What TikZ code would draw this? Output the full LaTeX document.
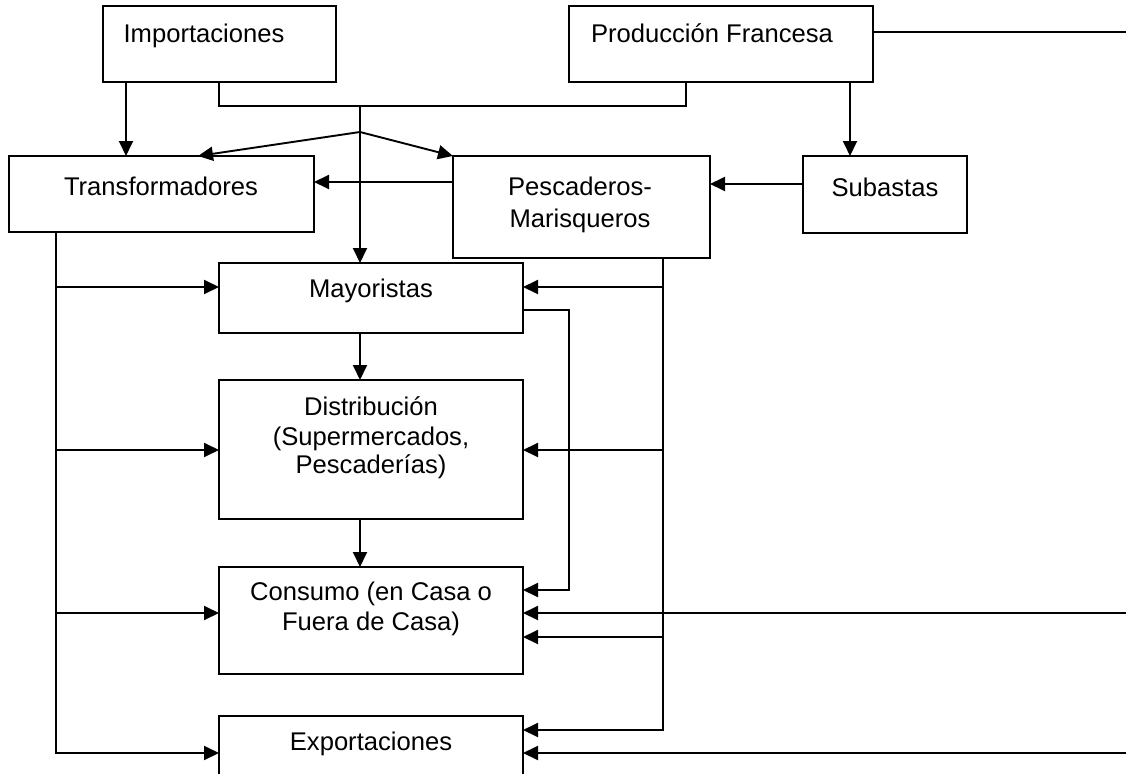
\documentclass[tikz,border=0pt]{standalone}
\usepackage{fontspec}
\setmainfont{Liberation Sans}
\usetikzlibrary{arrows.meta}
\begin{document}
\begin{tikzpicture}[x=1pt,y=-1pt,
  box/.style={draw, line width=1.9pt, inner sep=0pt, outer sep=0pt},
  lbl/.style={anchor=base, inner sep=0pt, font=\fontsize{25.6}{29}\selectfont},
  conn/.style={line width=1.9pt},
  arr/.style={conn, -{Triangle[length=15pt,width=14pt]}}]
\clip (0,0) rectangle (1126,773);
\fill[white] (0,0) rectangle (1126,773);
% boxes
\node[box, minimum width=233pt, minimum height=76pt] (imp) at (219.5,44) {};
\node[box, minimum width=304pt, minimum height=76pt] (prod) at (721,44) {};
\node[box, minimum width=305pt, minimum height=76pt] (trans) at (161.5,194) {};
\node[box, minimum width=257pt, minimum height=102pt] (pesc) at (581.5,207) {};
\node[box, minimum width=164pt, minimum height=77pt] (sub) at (885,194.5) {};
\node[box, minimum width=304pt, minimum height=70pt] (may) at (371,298) {};
\node[box, minimum width=304pt, minimum height=139pt] (dist) at (371,449.5) {};
\node[box, minimum width=304pt, minimum height=107pt] (cons) at (371,620.5) {};
\node[box, minimum width=304pt, minimum height=84pt] (exp) at (371,758) {};
% texts
\node[lbl] (timp) at (204,43) {Importaciones};
\node[lbl] (tprod) at (712,43) {Producción Francesa};
\node[lbl] (ttrans) at (161,195) {Transformadores};
\node[lbl] (tpesc1) at (580,195) {Pescaderos-};
\node[lbl] (tpesc2) at (580,227) {Marisqueros};
\node[lbl] (tsub) at (885,196) {Subastas};
\node[lbl] (tmay) at (371,297) {Mayoristas};
\node[lbl] (tdist1) at (371,415) {Distribución};
\node[lbl] (tdist2) at (371,445) {(Supermercados,};
\node[lbl] (tdist3) at (371,473) {Pescaderías)};
\node[lbl] (tcons1) at (371,600) {Consumo (en Casa o};
\node[lbl] (tcons2) at (371,630) {Fuera de Casa)};
\node[lbl] (texp) at (371,750) {Exportaciones};
% junctions and free ends
\coordinate (J) at (360,106);
\coordinate (S) at (360,132);
\coordinate (LT) at (56,0);
\coordinate (RT) at (663,0);
\coordinate (MC) at (569,0);
\coordinate (E1) at (1140,32);
\coordinate (E2) at (1140,613);
\coordinate (E3) at (1140,753);
% top connectors
\draw[arr] (imp.south -| 126,0) -- (trans.north -| 126,0);
\draw[conn] (imp.south -| 219,0) |- (J) -| (prod.south -| 686,0);
\draw[arr] (J) -- (may.north -| J);
\draw[arr] (S) -- (trans.north -| 198,0);
\draw[arr] (S) -- (pesc.north west);
\draw[arr] (pesc.west |- 0,182) -- (trans.east |- 0,182);
\draw[arr] (prod.south -| 850,0) -- (sub.north -| 850,0);
\draw[arr] (sub.west |- 0,184) -- (pesc.east |- 0,184);
\draw[conn] (prod.east |- E1) -- (E1);
% central chain
\draw[arr] (may.south -| J) -- (dist.north -| J);
\draw[arr] (dist.south -| J) -- (cons.north -| J);
% left trunk
\draw[arr] (trans.south -| LT) |- (exp.west |- 0,753);
\draw[arr] (LT |- 0,287) -- (may.west |- 0,287);
\draw[arr] (LT |- 0,450) -- (dist.west |- 0,450);
\draw[arr] (LT |- 0,613) -- (cons.west |- 0,613);
% right trunk
\draw[arr] (pesc.south -| RT) |- (exp.east |- 0,730);
\draw[arr] (RT |- 0,287) -- (may.east |- 0,287);
\draw[arr] (RT |- 0,450) -- (dist.east |- 0,450);
\draw[arr] (RT |- 0,637) -- (cons.east |- 0,637);
% mayoristas to consumo
\draw[arr] (may.east |- 0,310) -| (MC |- 0,590) -- (cons.east |- 0,590);
% from far right
\draw[arr] (E2) -- (cons.east |- E2);
\draw[arr] (E3) -- (exp.east |- E3);
\end{tikzpicture}
\end{document}
